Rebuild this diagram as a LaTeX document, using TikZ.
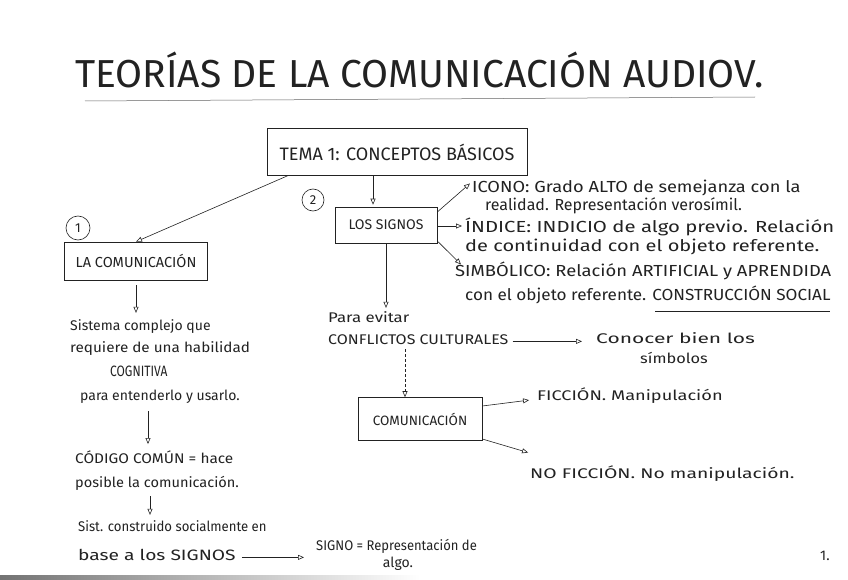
\documentclass[tikz,border=0pt]{standalone}
\usepackage{fontspec}
\usepackage{graphicx}
\setmainfont{Fira Sans}
\usetikzlibrary{arrows.meta,calc}
\definecolor{ink}{HTML}{222222}
\newcommand{\hstr}[2]{\scalebox{#1}[1]{#2}}
\begin{document}
\begin{tikzpicture}[x=1pt,y=-1pt,
  inkline/.style={draw=ink, line width=0.6pt},
  arr/.style={inkline, -{Triangle[open,length=6pt,width=5pt]}},
  dasharr/.style={arr, dash pattern=on 3pt off 2pt},
  boxnode/.style={draw=ink, line width=0.6pt, inner sep=0pt, text=ink},
  numcirc/.style={draw=ink, line width=0.6pt, circle, inner sep=0pt, text=ink, font=\fontsize{13}{15}\selectfont},
  ltxt/.style={text=ink, inner sep=0pt, anchor=base west, font=\fontsize{14}{16}\selectfont},
  rtxt/.style={text=ink, inner sep=0pt, anchor=base west, font=\fontsize{16}{18}\selectfont}]
\useasboundingbox (0,0) rectangle (848,580);
\fill[white] (0,0) rectangle (848,580);
\shade[left color=black!55, right color=white] (0,575) rectangle (420,580);

% title
\node[text=ink, inner sep=0pt, anchor=base west, font=\fontsize{39}{44}\selectfont] (title) at (75,88) {TEORÍAS DE LA COMUNICACIÓN AUDIOV.};
\coordinate (ulA) at (85,101);
\coordinate (ulB) at (755,97);
\draw[draw=ink!70, line width=0.5pt] (ulA) -- (ulB);

% main box
\node[boxnode, minimum width=260pt, minimum height=47pt, font=\fontsize{18}{20}\selectfont] (tema) at (397,152) {TEMA 1: CONCEPTOS BÁSICOS};

% circles
\node[numcirc, minimum size=24pt] (c1) at (78,228) {1};
\node[numcirc, minimum size=22pt] (c2) at (313,200) {2};

% left branch
\node[boxnode, minimum width=143pt, minimum height=38pt, font=\fontsize{14.5}{16}\selectfont] (lacom) at (136,261) {LA COMUNICACIÓN};
\node[ltxt] (s1) at (70,330) {Sistema complejo que};
\node[ltxt] (s2) at (70,352) {\hstr{1.09}{requiere de una habilidad}};
\node[ltxt, font=\fontsize{15}{17}\selectfont] (s3) at (110,376) {\hstr{0.8}{COGNITIVA}};
\node[ltxt] (s4) at (80,400) {para entenderlo y usarlo.};
\node[ltxt] (cod1) at (75,463) {\hstr{1.1}{CÓDIGO COMÚN = hace}};
\node[ltxt] (cod2) at (75,487) {\hstr{1.04}{posible la comunicación.}};
\node[ltxt] (sis1) at (78,531) {\hstr{0.94}{Sist. construido socialmente en}};
\node[ltxt, font=\fontsize{15}{17}\selectfont] (sis2) at (78,560) {\hstr{1.28}{base a los SIGNOS}};
\node[ltxt] (signo1) at (316,550) {\hstr{0.93}{SIGNO = Representación de}};
\node[ltxt, anchor=base] (signo2) at (398,567) {algo.};
\node[ltxt] (pagenum) at (820,560) {1.};

% right branch
\node[boxnode, minimum width=102pt, minimum height=36pt, font=\fontsize{14}{16}\selectfont] (signos) at (386,225) {LOS SIGNOS};
\node[rtxt] (ico1) at (472,193) {\hstr{1.14}{ICONO: Grado ALTO de semejanza con la}};
\node[rtxt] (ico2) at (485,210) {realidad. Representación verosímil.};
\node[rtxt] (ind1) at (465,232) {\hstr{1.27}{ÍNDICE: INDICIO de algo previo. Relación}};
\node[rtxt] (ind2) at (465,251) {\hstr{1.25}{de continuidad con el objeto referente.}};
\node[rtxt] (sim1) at (455,276) {\hstr{1.15}{SIMBÓLICO: Relación ARTIFICIAL y APRENDIDA}};
\node[rtxt] (sim2) at (465,300) {\hstr{1.07}{con el objeto referente. CONSTRUCCIÓN SOCIAL}};
\coordinate (csA) at (655,311);
\coordinate (csB) at (830,311);
\draw[inkline] (csA) -- (csB);

\node[ltxt] (para) at (328,322) {\hstr{1.2}{Para evitar}};
\node[ltxt] (conf) at (328,344) {\hstr{1.14}{CONFLICTOS CULTURALES}};
\node[ltxt] (con1) at (596,343) {\hstr{1.5}{Conocer bien los}};
\node[ltxt, anchor=base] (con2) at (674,363) {\hstr{1.17}{símbolos}};

\node[boxnode, minimum width=124pt, minimum height=43pt, font=\fontsize{13.5}{15}\selectfont] (comu) at (420,419) {COMUNICACIÓN};
\node[ltxt] (fic) at (537,400) {\hstr{1.3}{FICCIÓN. Manipulación}};
\node[ltxt] (nofic) at (530,478) {\hstr{1.38}{NO FICCIÓN. No manipulación.}};

% connectors
\coordinate (temaL) at ($(tema.south west)!0.08!(tema.south east)$);
\coordinate (temaM) at ($(tema.south west)!0.408!(tema.south east)$);
\draw[arr] (temaL) -- (lacom.north);
\draw[arr, shorten >=2pt] (temaM) -- (temaM |- signos.north);

\draw[arr, shorten <=5pt, shorten >=6pt] (lacom.south) -- (lacom.south |- s1.north);
\coordinate (a1) at ($(cod1.west)+(73,0)$);
\draw[arr, shorten <=8pt, shorten >=6pt] (a1 |- s4.south) -- (a1 |- cod1.north);
\coordinate (a2) at ($(cod2.west)+(75,0)$);
\draw[arr, shorten <=6pt, shorten >=5pt] (a2 |- cod2.south) -- (a2 |- sis1.north);
\draw[arr, shorten <=6pt, shorten >=12pt] (sis2.east |- sis2.mid) -- (signo1.west |- sis2.mid);

\draw[arr] ([yshift=13pt]signos.east) -- ([xshift=-2pt,yshift=5pt]ico1.west);
\draw[arr, shorten >=3pt] ([yshift=-1pt]signos.east) -- ([yshift=-1pt]signos.east -| ind1.west);
\draw[arr] ([yshift=-16pt]signos.east) -- ([xshift=6pt,yshift=6pt]sim1.west);
\draw[arr, shorten >=3pt] (signos.south) -- (signos.south |- para.north);

\draw[arr, shorten <=4pt, shorten >=14pt] (conf.east |- conf.mid) -- (con1.west |- conf.mid);
\coordinate (dashtop) at ($(conf.south west)+(77,5)$);
\draw[dasharr] (dashtop) -- (dashtop |- comu.north);

\draw[arr, shorten >=8pt] ([yshift=13pt]comu.east) -- ([yshift=-4pt]fic.west);
\draw[arr, shorten >=2pt] ([yshift=-20pt]comu.east) -- ([yshift=20pt]nofic.west);
\end{tikzpicture}
\end{document}
